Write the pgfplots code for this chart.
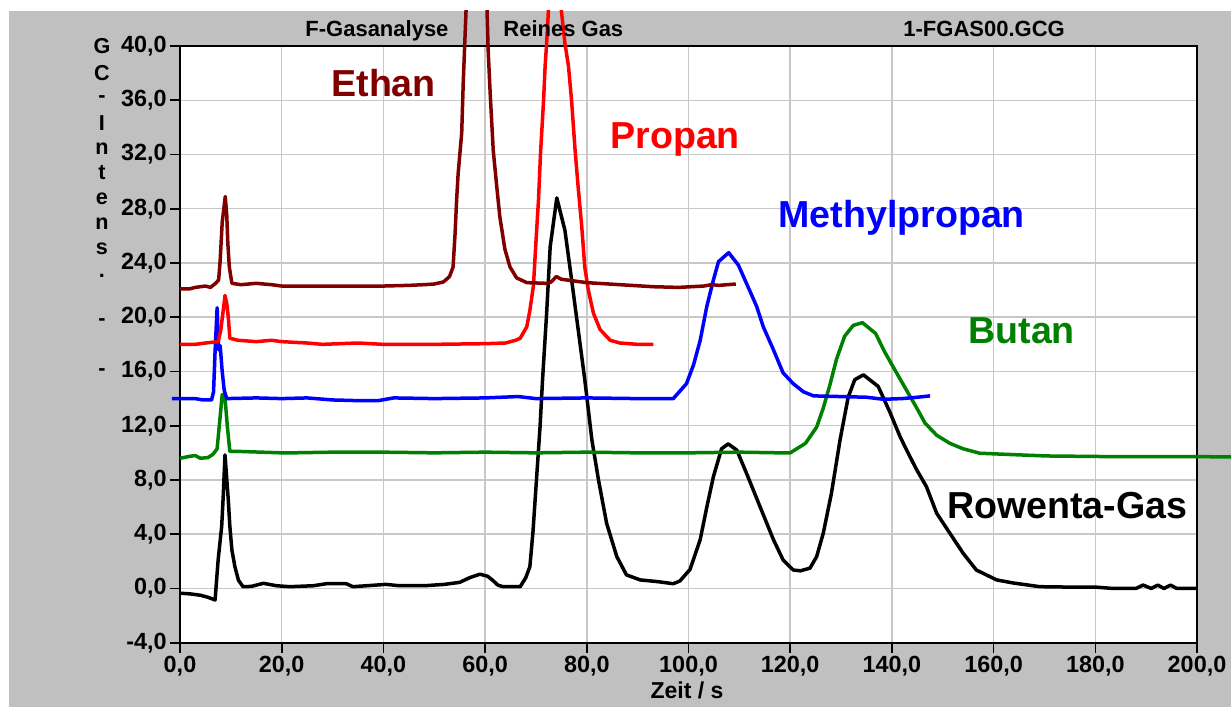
\documentclass[border=0pt]{standalone}
\usepackage{fontspec}
\setmainfont{Liberation Sans}
\usepackage{pgfplots}
\pgfplotsset{compat=1.18}
\definecolor{bg}{HTML}{C0C0C0}
\definecolor{ethan}{HTML}{800000}
\definecolor{butan}{HTML}{008000}
\definecolor{gridc}{HTML}{C8C8C8}
\begin{document}
\begin{tikzpicture}
\useasboundingbox (0,0) rectangle (615.5pt,353.5pt);
\fill[white] (0,0) rectangle (615.5pt,353.5pt);
\fill[bg] (4.5pt,0) rectangle (615.5pt,348pt);
\begin{scope}
\clip (4.5pt,0) rectangle (615.5pt,348pt);
\begin{axis}[at={(90pt,32.15pt)}, anchor=south west, scale only axis,
  width=508.5pt, height=298.35pt,
  xmin=0, xmax=200, ymin=-4, ymax=40, clip=false,
  axis background/.style={fill=white},
  grid=major, major grid style={gridc, line width=0.75pt},
  xtick={0,20,...,200}, ytick={-4,0,...,40},
  tick align=outside, xtick pos=bottom, ytick pos=left,
  major tick length=5pt, tick style={black, line width=0.8pt},
  axis line style={black, line width=0.8pt},
  ticklabel style={font=\fontsize{11.7}{13}\selectfont\bfseries, inner sep=1.5pt},
  every axis plot/.append style={line width=1.75pt, line join=round},
  /pgf/number format/.cd, fixed, fixed zerofill, precision=1, use comma, assume math mode=true]
% Rowenta-Gas
\addplot[black] coordinates {
(0,-0.35) (2,-0.4) (4,-0.5) (5.5,-0.65) (6.9,-0.85) (7.5,2.1) (8.2,4.6) (8.5,6.8) (8.85,9.85) (9.5,6.5) (9.8,4.6) (10.2,2.85) (10.8,1.6) (11.5,0.6) (12.4,0.13) (14,0.15) (16.4,0.38) (19,0.2) (21.6,0.13) (26.2,0.2) (28.8,0.35) (32.7,0.35) (34,0.13) (40.5,0.3) (43.2,0.2) (48,0.2) (52,0.3) (55,0.45) (57,0.8) (59,1.05) (60.5,0.9) (61.5,0.6) (62.5,0.25) (63.5,0.13) (66.9,0.13) (68,0.8) (68.8,1.6) (69.4,4.1) (70.1,8.0) (70.8,11.9) (71.3,15.4) (72.1,20.3) (72.8,25.2) (74.1,28.8) (75.7,26.4) (77.0,22.8) (78.3,19.1) (79.6,15.4) (81.0,10.95) (82.3,8.0) (83.9,4.8) (85.9,2.35) (87.8,1.0) (90.5,0.63) (94,0.5) (97,0.35) (98.3,0.55) (100.3,1.4) (102.3,3.6) (103.6,6.0) (104.9,8.25) (106.5,10.3) (107.8,10.66) (109.5,10.2) (111.4,8.5) (114.1,6.0) (116.7,3.6) (118.6,2.1) (120.6,1.36) (122,1.3) (123.9,1.5) (125.2,2.35) (126.5,4.07) (128.1,7.0) (129.8,10.95) (131.4,14.1) (132.7,15.4) (134.4,15.75) (137.3,14.9) (139.6,13.0) (141.6,11.2) (142.9,10.2) (144.8,8.8) (146.8,7.5) (148.8,5.55) (151.4,4.07) (154,2.6) (156.6,1.36) (160.6,0.63) (163.9,0.4) (169.1,0.13) (175,0.1) (180,0.1) (183.5,0.0) (188,0.0) (189.4,0.25) (191,0.0) (192.3,0.25) (193.5,0.0) (194.8,0.25) (196,0.0) (200,0.0)};
% Butan
\addplot[butan] coordinates {
(0,9.6) (2,9.75) (3,9.8) (4,9.6) (5.5,9.65) (6.5,9.9) (7.3,10.3) (7.9,12.7) (8.3,14.3) (8.8,14.3) (9.3,12.0) (9.8,10.1) (12,10.1) (20,10.0) (22,10.0) (30,10.05) (40,10.05) (50,10.0) (60,10.05) (70,10.0) (80,10.05) (90,10.0) (100,10.0) (110,10.05) (118,10.0) (120,10.0) (123,10.7) (125.2,11.9) (126.5,13.3) (127.8,15.0) (129.1,16.9) (130.7,18.6) (132.4,19.4) (134.2,19.6) (136.8,18.8) (138.5,17.5) (140.3,16.3) (142.9,14.6) (144.9,13.3) (146.5,12.2) (148.8,11.3) (151.4,10.7) (154,10.3) (157.3,9.97) (165,9.85) (170.4,9.77) (183.5,9.72) (200,9.72) (206.7,9.7)};
% Methylpropan
\addplot[blue] coordinates {
(-1.6,14.0) (0,14.0) (3,14.0) (4.5,13.9) (6.2,13.9) (6.6,14.5) (6.9,17.5) (7.3,20.7) (7.6,17.6) (7.9,17.9) (8.3,16.0) (8.7,14.6) (9.2,14.0) (15,14.05) (20,14.0) (25,14.05) (30,13.9) (35,13.85) (39,13.85) (42,14.05) (50,14.0) (60,14.05) (66.5,14.15) (70,14.0) (80,14.05) (90,14.0) (97,14.0) (99.6,15.1) (101,16.5) (102.3,18.3) (103.6,20.8) (104.9,22.75) (105.9,24.1) (107.9,24.76) (109.8,23.85) (111.4,22.5) (113.4,20.8) (114.7,19.3) (116.7,17.6) (118.6,15.9) (120.6,15.1) (122.6,14.5) (124.6,14.2) (130,14.15) (135,14.1) (138.3,13.95) (142,14.0) (145,14.1) (147.5,14.2)};
% Propan
\addplot[red] coordinates {
(0,18.0) (3,18.0) (5,18.1) (7.5,18.2) (8.0,19.0) (8.5,20.5) (8.85,21.6) (9.2,21.0) (9.5,20.0) (9.8,18.45) (11.4,18.3) (15,18.2) (18,18.3) (20,18.2) (25,18.1) (28,18.0) (35,18.1) (40,18.0) (50,18.0) (60,18.05) (64,18.1) (66,18.3) (66.9,18.45) (68.2,19.3) (68.8,20.5) (69.5,22.3) (70.1,26.2) (70.5,28.65) (70.9,32.1) (71.5,36.0) (71.8,38.5) (72.1,40.2) (72.8,45) (74.3,45) (75.7,40.2) (76.4,38.5) (77.0,36.0) (77.7,32.3) (78.3,29.6) (79.0,26.7) (79.6,23.7) (80.3,22.0) (81.3,20.3) (82.6,19.1) (84.6,18.3) (86.5,18.1) (90,18.0) (93.1,18.0)};
% Ethan
\addplot[ethan] coordinates {
(0,22.1) (2,22.1) (3,22.2) (5,22.3) (6,22.2) (7,22.5) (7.6,22.75) (7.9,24.2) (8.3,27.0) (8.9,28.9) (9.2,27.5) (9.4,25.5) (9.7,23.7) (10.2,22.5) (12,22.4) (15,22.5) (18,22.4) (20,22.3) (25,22.3) (30,22.3) (35,22.3) (40,22.3) (45,22.35) (48,22.4) (50,22.45) (51.8,22.6) (53.0,23.0) (53.7,23.7) (54.1,26.2) (54.4,28.65) (54.7,30.6) (55.4,33.6) (55.7,37.3) (56.0,40.2) (56.5,45) (60.2,45) (60.6,39.7) (61.0,36.5) (61.6,32.3) (62.3,29.6) (62.9,27.4) (63.9,25.0) (64.9,23.7) (66.2,22.9) (68.2,22.55) (72.1,22.5) (73,22.6) (74.0,23.0) (75,22.8) (76.0,22.75) (80.0,22.55) (86.5,22.4) (93.1,22.25) (98,22.2) (103,22.3) (104.5,22.4) (106,22.35) (109.3,22.45)};
\end{axis}
\end{scope}
% top titles
\begin{scope}[every node/.style={anchor=base west, inner sep=0pt, font=\fontsize{11}{12}\selectfont\bfseries}]
\node at (152.5pt,335.15pt) {F-Gasanalyse};
\node at (251.5pt,335.15pt) {Reines Gas};
\node at (451.5pt,335.15pt) {1-FGAS00.GCG};
\end{scope}
% y label letters
\begin{scope}[every node/.style={anchor=base, inner sep=0pt, font=\fontsize{10.8}{12}\selectfont\bfseries}]
\node at (51pt,326.5pt) {G};
\node at (51pt,313pt) {C};
\node at (51pt,302pt) {-};
\node at (51pt,288.25pt) {I};
\node at (51pt,276pt) {n};
\node at (51pt,263.5pt) {t};
\node at (51pt,251pt) {e};
\node at (51pt,238.5pt) {n};
\node at (51pt,226pt) {s};
\node at (51pt,214.5pt) {.};
\node at (51pt,190.5pt) {-};
\node at (51pt,165.5pt) {-};
\end{scope}
\node[anchor=base, inner sep=0pt, font=\fontsize{11.5}{12}\selectfont\bfseries] at (343.5pt,4.5pt) {Zeit / s};
% annotations
\begin{scope}[every node/.style={anchor=base west, inner sep=0pt, font=\fontsize{18.8}{22}\selectfont\bfseries}]
\node[text=ethan] at (165.5pt,305pt) {Ethan};
\node[text=red] at (305pt,279.35pt) {Propan};
\node[text=blue] at (389pt,239.5pt) {Methylpropan};
\node[text=butan] at (484pt,181.85pt) {Butan};
\node[text=black] at (473.35pt,94.35pt) {Rowenta-Gas};
\end{scope}
\end{tikzpicture}
\end{document}
